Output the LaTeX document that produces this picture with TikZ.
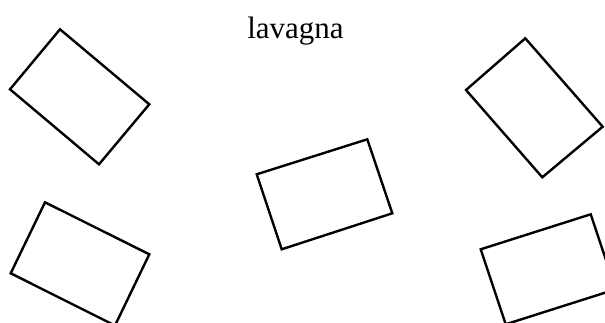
\documentclass[tikz,border=0pt]{standalone}
\usepackage{fontspec}
\setmainfont{Liberation Serif}
\begin{document}
\begin{tikzpicture}[x=1pt,y=-1pt,
  desk/.style={draw=black,line width=2.4pt,line join=miter},
  title/.style={font=\fontsize{31}{36}\selectfont,inner sep=0pt,anchor=base}]
\useasboundingbox (0,0) rectangle (605,322);
\clip (0,0) rectangle (605,322);
\node[title] (lavagna) at (295.5,38) {lavagna};
\draw[desk] (60,29.3) -- (149.3,104.3) -- (99,164.3) -- (10,89.3) -- cycle;
\draw[desk] (45,202.3) -- (149.3,254.3) -- (115,325.5) -- (10.7,273.3) -- cycle;
\draw[desk] (367.3,139.3) -- (392.3,213.3) -- (281.7,249.3) -- (256.7,174.3) -- cycle;
\draw[desk] (525.3,38.3) -- (602.7,126.7) -- (542.3,177.3) -- (466,90) -- cycle;
\draw[desk] (590.7,214.3) -- (615.7,289.3) -- (505.7,324.3) -- (480.7,249.3) -- cycle;
\end{tikzpicture}
\end{document}
